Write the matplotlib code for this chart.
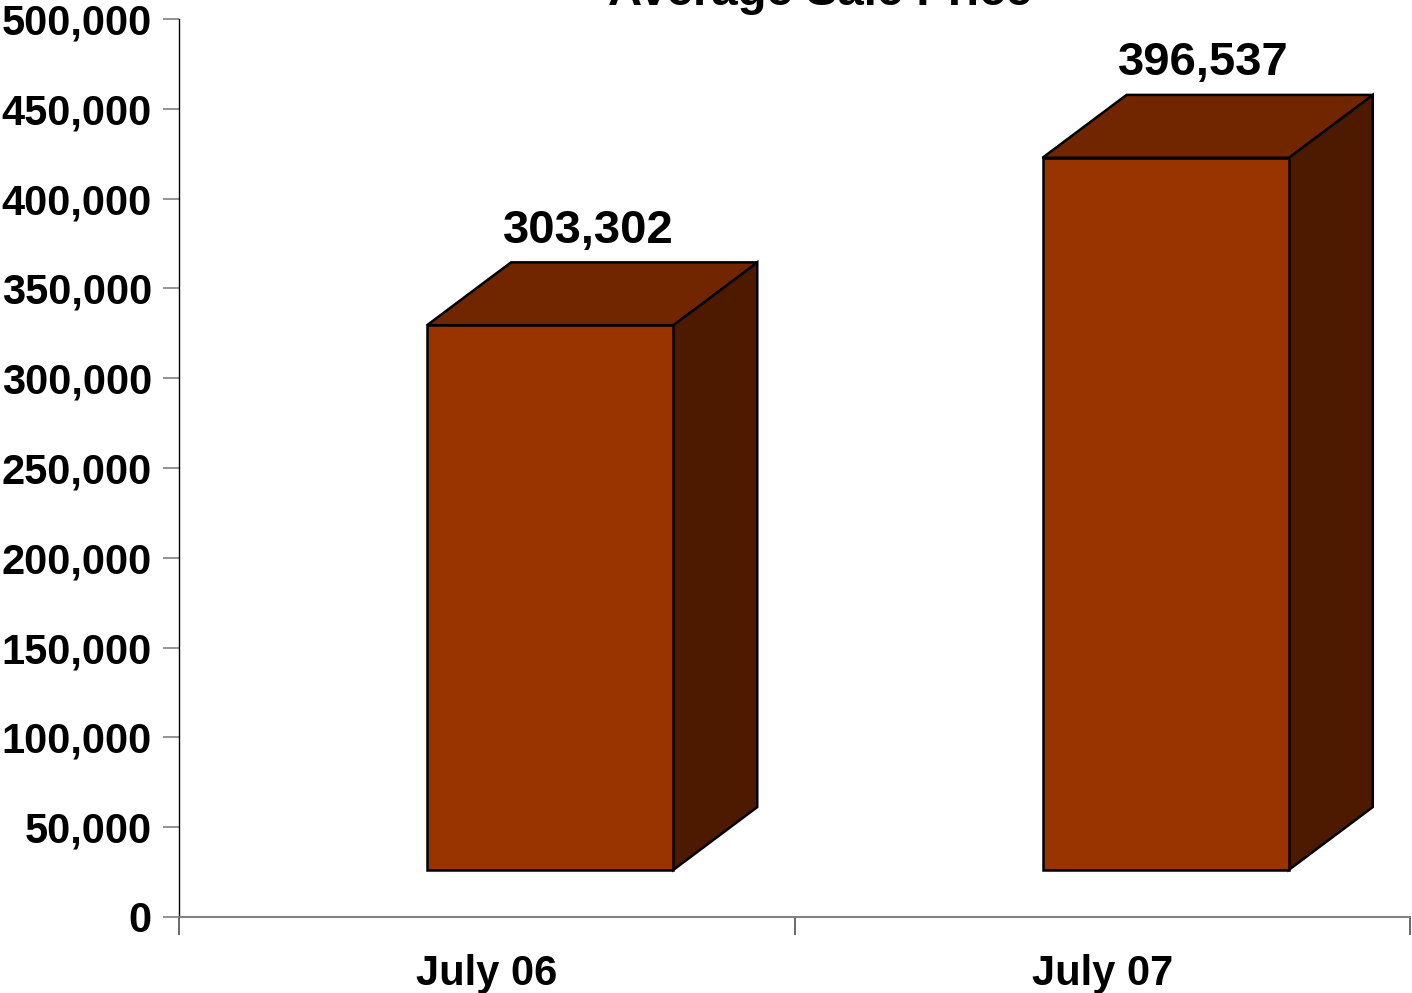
import matplotlib.pyplot as plt
from matplotlib.patches import Polygon
from matplotlib.ticker import FuncFormatter, MultipleLocator
import numpy as np

plt.rcParams['font.family'] = ['Liberation Sans', 'DejaVu Sans']
plt.rcParams['font.weight'] = 'bold'

# average sale price per period
periods = ['July 06', 'July 07']
prices = [303302, 396537]

# 3d box geometry (x in category units, y in data units)
face_left = -0.097    # front face left edge relative to category centre
face_width = 0.40
depth_x = 0.1365
depth_y = 35000
lift = 26200          # floor of the box sits above the axis line

front_color = '#993300'
top_color = '#722600'
side_color = '#4d1a00'

fig = plt.figure(figsize=(14.12, 9.93), dpi=100)
ax = fig.add_axes([179 / 1412, 76 / 993, 1231 / 1412, 898 / 993])

centers = np.arange(len(periods)) + 0.5
for xc, val in zip(centers, prices):
    x0 = xc + face_left
    x1 = x0 + face_width
    y0 = lift
    y1 = lift + val
    front = [(x0, y0), (x1, y0), (x1, y1), (x0, y1)]
    top = [(x0, y1), (x1, y1), (x1 + depth_x, y1 + depth_y), (x0 + depth_x, y1 + depth_y)]
    side = [(x1, y0), (x1 + depth_x, y0 + depth_y), (x1 + depth_x, y1 + depth_y), (x1, y1)]
    for pts, col in [(side, side_color), (top, top_color), (front, front_color)]:
        ax.add_patch(Polygon(pts, closed=True, facecolor=col, edgecolor='black',
                             linewidth=1.8, joinstyle='miter', zorder=3))
    ax.annotate(f'{val:,}', xy=((x0 + x1 + depth_x) / 2, y1 + depth_y),
                xytext=(-3, 7), textcoords='offset points',
                ha='center', va='bottom', fontsize=34, fontweight='bold',
                annotation_clip=False)

ax.set_xlim(0, len(periods))
ax.set_ylim(0, 500000)

ax.yaxis.set_major_locator(MultipleLocator(50000))
ax.yaxis.set_major_formatter(FuncFormatter(lambda v, p: f'{int(v):,}'))
ax.tick_params(axis='y', direction='out', length=11.5, width=1.2,
               color='#808080', pad=8, labelsize=30)

ax.set_xticks(centers)
ax.set_xticklabels(periods)
ax.set_xticks(np.arange(len(periods) + 1), minor=True)
ax.tick_params(axis='x', which='major', length=0, pad=27, labelsize=30)
ax.tick_params(axis='x', which='minor', direction='out', length=13,
               width=1.2, color='#505050')

for side in ['top', 'right']:
    ax.spines[side].set_visible(False)
ax.spines['left'].set_color('black')
ax.spines['left'].set_linewidth(1.0)
ax.spines['bottom'].set_color('#808080')
ax.spines['bottom'].set_linewidth(1.5)

fig.text(820 / 1412, 1 - 5 / 993, 'Average Sale Price', ha='center',
         va='baseline', fontsize=34, fontweight='bold')

fig.savefig('out.png', dpi=100)
